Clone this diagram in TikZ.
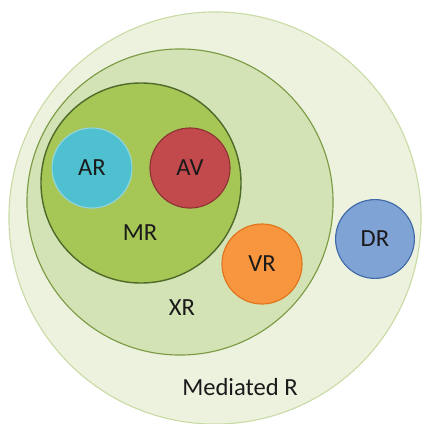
\documentclass[tikz,border=0pt]{standalone}
\usepackage{fontspec}
\setmainfont{Carlito}
\usepackage{tikz}
\usetikzlibrary{positioning}
\usepackage{xcolor}

\definecolor{medfill}{HTML}{EDF2DF}
\definecolor{medline}{HTML}{C9DBA5}
\definecolor{xrfill}{HTML}{D4E3B5}
\definecolor{xrline}{HTML}{7A9A42}
\definecolor{mrfill}{HTML}{A6C656}
\definecolor{mrline}{HTML}{4E6A2A}
\definecolor{arfill}{HTML}{4FC0CF}
\definecolor{arline}{HTML}{8FD6DF}
\definecolor{avfill}{HTML}{C24A4C}
\definecolor{avline}{HTML}{8E3234}
\definecolor{vrfill}{HTML}{F7963F}
\definecolor{vrline}{HTML}{E0731C}
\definecolor{drfill}{HTML}{7FA3D4}
\definecolor{drline}{HTML}{3F68A8}
\definecolor{ink}{HTML}{1A1A1A}

\begin{document}
\begin{tikzpicture}[x=0.025cm, y=-0.025cm,
    ring/.style={circle, draw, inner sep=0pt},
    dot/.style={circle, draw, line width=0.8pt, inner sep=0pt, minimum size=2cm,
      text=ink, font=\fontsize{17.5}{20}\selectfont},
    tag/.style={text=ink, font=\fontsize{17.5}{20}\selectfont}]
  \useasboundingbox (0,0) rectangle (423,424);

  % --- nested rings ---
  \node[ring, fill=medfill, draw=medline, line width=0.8pt, minimum size=10.3cm] (med) at (215,218) {};
  \node[ring, fill=xrfill, draw=xrline, line width=0.8pt, minimum size=7.65cm] (xr) at (180,202) {};
  \node[ring, fill=mrfill, draw=mrline, line width=1pt, minimum size=5cm] (mr) at (141,183) {};

  % --- small circles ---
  \node[dot, fill=arfill, draw=arline] (ar) at (92,168) {AR};
  \node[dot, fill=avfill, draw=avline] (av) at (190,168) {AV};
  \node[dot, fill=vrfill, draw=vrline] (vr) at (262,264) {VR};
  \node[dot, fill=drfill, draw=drline, minimum size=1.97cm] (dr) at (375,239) {DR};

  % --- ring labels ---
  \node[tag] (mrtext) at (140,233) {MR};
  \node[tag] (xrtext) at (182,308) {XR};
  \node[tag] (medtext) at (240,387) {Mediated R};
\end{tikzpicture}
\end{document}
